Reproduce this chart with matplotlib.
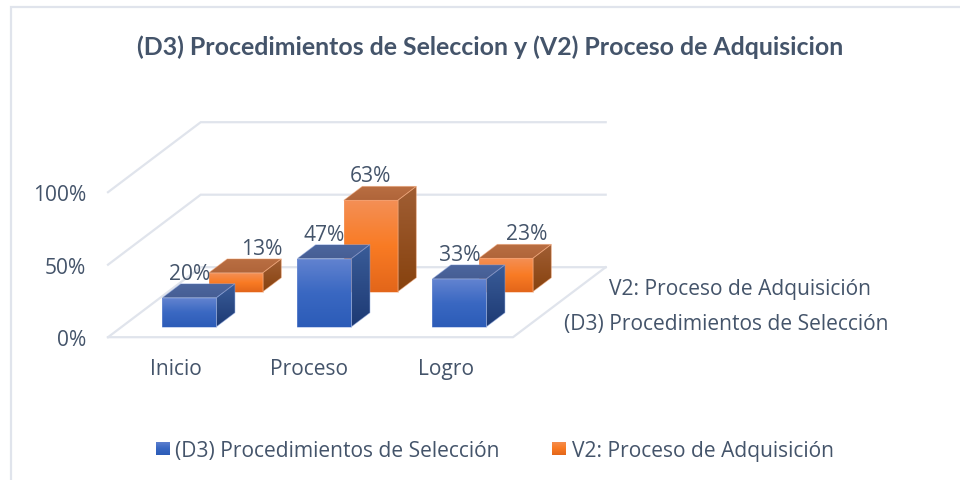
import numpy as np
import matplotlib
matplotlib.use("Agg")
import matplotlib.pyplot as plt
from matplotlib.colors import LinearSegmentedColormap
from matplotlib.patches import Polygon

title = "(D3) Procedimientos de Seleccion y (V2) Proceso de Adquisicion"
categories = ["Inicio", "Proceso", "Logro"]
series_names = ["(D3) Procedimientos de Selección", "V2: Proceso de Adquisición"]
d3_values = [20, 47, 33]
v2_values = [13, 63, 23]
value_ticks = [0, 50, 100]

TXT = "#44546a"
GRID = "#e0e4ec"
FONT = ["Open Sans", "DejaVu Sans"]
TITLE_FONT = ["Lato", "DejaVu Sans"]
FS = 15.1

# oblique projection: category, depth, value -> pixel position
X0, Y0 = 108.0, 338.2
CAT_W, DEP_X, DEP_Y, VAL_H = 135.0, 46.35, 35.0, 1.45


def proj(c, d, v=0.0):
    return (X0 + c * CAT_W + d * DEP_X, Y0 - d * DEP_Y - v * VAL_H)


fig = plt.figure(figsize=(9.6, 4.81), dpi=100)
ax = fig.add_axes([0, 0, 1, 1])
ax.axis("off")


def grad_poly(pts, colors, z, edge=None):
    pts = np.array(pts)
    cmap = LinearSegmentedColormap.from_list("g", colors)
    grad = np.linspace(0, 1, 64)[:, None]
    im = ax.imshow(grad, cmap=cmap, aspect="auto", origin="upper", zorder=z,
                   extent=(pts[:, 0].min(), pts[:, 0].max(), pts[:, 1].max(), pts[:, 1].min()),
                   interpolation="bilinear")
    p = Polygon(pts, closed=True, transform=ax.transData, fc="none", ec="none")
    ax.add_patch(p)
    im.set_clip_path(p)
    if edge:
        ax.add_patch(Polygon(pts, closed=True, fc="none", ec=edge, lw=0.6, alpha=0.55, zorder=z + 0.1))


STYLES = [
    dict(front=["#6283d0", "#3a68c2", "#2c5cb8"], side=["#3a5c98", "#1d3a74"],
         top=["#4c669e", "#465e94"], edge="#86a0da"),
    dict(front=["#f48f55", "#f97b24", "#e3661a"], side=["#a05e34", "#87420e"],
         top=["#b96e42", "#b0653a"], edge="#f3a678"),
]


def bar(c, s, v, style, z):
    x0, x1 = c + 0.3, c + 0.7
    d0, d1 = s + 0.3, s + 0.7
    grad_poly([proj(x0, d0, v), proj(x1, d0, v), proj(x1, d0), proj(x0, d0)], style["front"], z, style["edge"])
    grad_poly([proj(x1, d0, v), proj(x1, d1, v), proj(x1, d1), proj(x1, d0)], style["side"], z, style["edge"])
    grad_poly([proj(x0, d0, v), proj(x1, d0, v), proj(x1, d1, v), proj(x0, d1, v)], style["top"], z, style["edge"])


# walls and floor
for t in value_ticks:
    a, b, e = proj(0, 0, t), proj(0, 2, t), proj(3, 2, t)
    ax.plot([a[0], b[0], e[0]], [a[1], b[1], e[1]], color=GRID, lw=1.6, zorder=1, solid_joinstyle="miter")
fl = [proj(3, 2), proj(3, 0), proj(0, 0)]
ax.plot(*zip(*fl), color=GRID, lw=1.6, zorder=1)

all_values = [d3_values, v2_values]
label_dx = [[0, 0, 0], [26, 0, 21]]
for s in (1, 0):
    for c, v in enumerate(all_values[s]):
        bar(c, s, v, STYLES[s], z=5 + (1 - s) * 5)
        x, y = proj(c + 0.5, s + 0.3, v)
        ax.text(x + label_dx[s][c], y - 24.5, f"{v}%", fontsize=FS, color=TXT, family=FONT,
                ha="center", va="center", zorder=20)

# axis labels
for t in value_ticks:
    x, y = proj(0, 0, t)
    ax.text(86, y + 2.5, f"{t}%", fontsize=FS, color=TXT, family=FONT, ha="right", va="center")
cat_dx = [0, -2, 0]
for c, name in enumerate(categories):
    x, _ = proj(c + 0.5, 0)
    ax.text(x + cat_dx[c], 370, name, fontsize=FS, color=TXT, family=FONT, ha="center", va="center")
ax.text(609, 290, series_names[1], fontsize=FS, color=TXT, family=FONT, ha="left", va="center")
ax.text(564, 325, series_names[0], fontsize=FS, color=TXT, family=FONT, ha="left", va="center")

# title
ax.text(490, 47.5, title, fontsize=17.9, color=TXT, family=TITLE_FONT, weight="bold", ha="center", va="center")

# legend
for (mx, tx, s) in [(156, 175, 0), (552, 572, 1)]:
    grad_poly([(mx, 443), (mx + 13.5, 443), (mx + 13.5, 456.5), (mx, 456.5)], STYLES[s]["front"], 5)
    ax.text(tx, 451.5, series_names[s], fontsize=FS, color=TXT, family=FONT, ha="left", va="center")

# chart frame
ax.plot([11, 11, 960], [481, 8, 8], color=GRID, lw=1.6, zorder=1, solid_joinstyle="miter")

ax.set_xlim(0, 960)
ax.set_ylim(481, 0)
fig.savefig("out.png", dpi=100)
